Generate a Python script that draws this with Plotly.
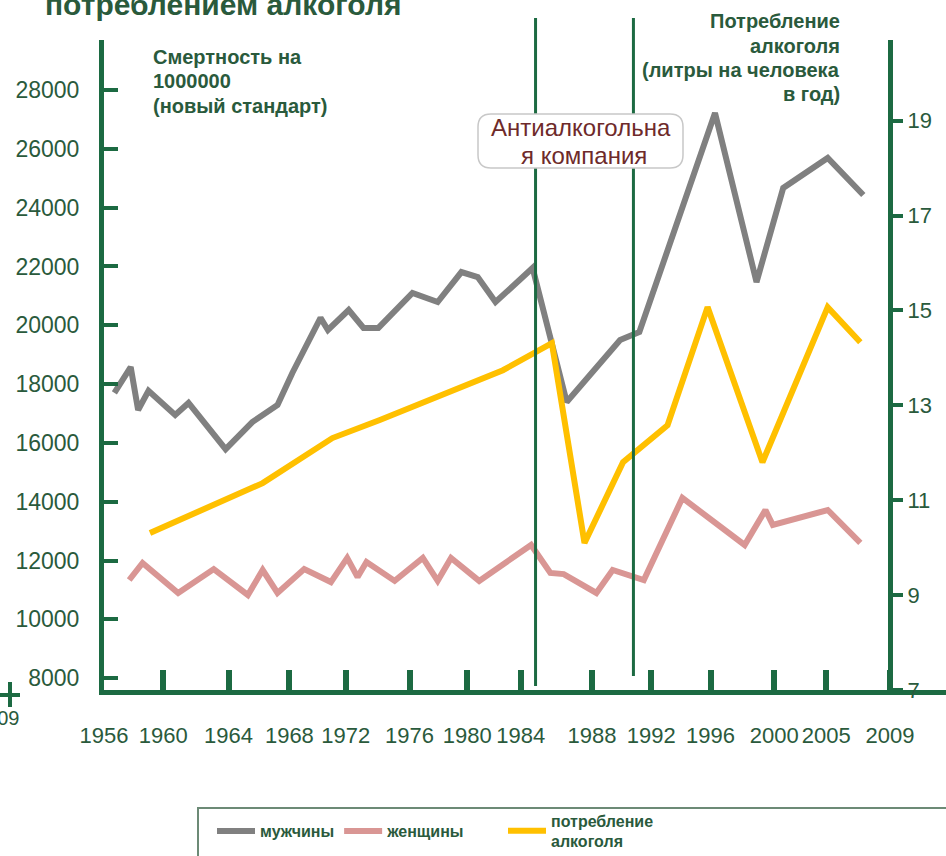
import plotly.graph_objects as go

# ---------------- data ----------------
men_years = [1956.7, 1957.8, 1958.3, 1959.0, 1960.8, 1961.7, 1964.2, 1965.6, 1966.0, 1967.7,
             1968.7, 1970.6, 1971.1, 1972.5, 1973.5, 1974.5, 1976.8, 1978.5, 1980.1, 1981.2,
             1982.4, 1984.9, 1987.2, 1990.8, 1992.1, 1997.2, 2000.0, 2001.8, 2004.8, 2007.2]
men_mortality = [17700, 18580, 17120, 17770, 16950, 17360, 15790, 16540, 16710, 17290,
                 18380, 20250, 19840, 20520, 19910, 19910, 21100, 20790, 21810, 21640,
                 20790, 21950, 17390, 19500, 19770, 27220, 21470, 24670, 25690, 24430]

women_years = [1957.7, 1958.6, 1961.0, 1963.4, 1965.7, 1966.7, 1967.7, 1969.5, 1971.3, 1972.4,
               1973.1, 1973.7, 1975.6, 1977.5, 1978.5, 1979.4, 1981.3, 1984.8, 1986.1, 1987.0,
               1989.2, 1990.3, 1992.4, 1995.0, 1999.2, 2000.6, 2001.1, 2004.8, 2007.0]
women_mortality = [11340, 11920, 10900, 11710, 10830, 11680, 10900, 11710, 11270, 12090,
                   11440, 11950, 11310, 12090, 11310, 12090, 11310, 12530, 11580, 11540,
                   10900, 11680, 11340, 14130, 12530, 13720, 13210, 13720, 12600]

alcohol_years = [1959.1, 1966.7, 1971.4, 1974.6, 1982.9, 1986.2, 1988.4, 1991.0, 1994.0,
                 1996.7, 2000.4, 2004.8, 2007.0]
alcohol_litres = [10.31, 11.36, 12.31, 12.69, 13.74, 14.31, 10.10, 11.80, 12.58,
                  15.07, 11.80, 15.07, 14.33]

# tick labels and where the original chart placed them along the year axis
x_tick_labels = ["1956", "1960", "1964", "1968", "1972", "1976", "1980", "1984",
                 "1988", "1992", "1996", "2000", "2005", "2009"]
x_tick_pos = [1956.0, 1960.0, 1964.4, 1968.5, 1972.3, 1976.6, 1980.5, 1984.1,
              1988.9, 1992.9, 1996.9, 2001.2, 2004.7, 2009.0]
left_ticks = [8000, 10000, 12000, 14000, 16000, 18000, 20000, 22000, 24000, 26000, 28000]
right_ticks = [7, 9, 11, 13, 15, 17, 19]
campaign_start, campaign_end = 1985.1, 1991.7

names = ["мужчины", "женщины", "потребление<br>алкоголя"]

# ---------------- layout helpers ----------------
W, H = 946, 856
L, R, T, B = 104, 0, 40, 166
def px(x):
    return (x - L) / (W - L - R)
def py(y):
    return (H - B - y) / (H - T - B)

GREEN = "#1c6a42"
TXT = "#2a5a3c"
FONT = "Liberation Sans, Arial, sans-serif"

fig = go.Figure()
fig.add_trace(go.Scatter(x=women_years, y=women_mortality, name=names[1], mode="lines",
                         line=dict(color="#d99694", width=6), legendrank=2, yaxis="y",
                         legend="legend"))
fig.add_trace(go.Scatter(x=men_years, y=men_mortality, name=names[0], mode="lines",
                         line=dict(color="#808080", width=6), legendrank=1, yaxis="y",
                         legend="legend"))
fig.add_trace(go.Scatter(x=alcohol_years, y=alcohol_litres, name=names[2], mode="lines",
                         line=dict(color="#ffc000", width=6), legendrank=3, yaxis="y2",
                         legend="legend2"))

right_pos = px(890)
legend_font = dict(size=16, color=TXT, weight="bold")

fig.update_layout(
    width=W, height=H,
    margin=dict(l=L, r=R, t=T, b=B, autoexpand=False),
    paper_bgcolor="white", plot_bgcolor="white",
    font=dict(family=FONT, color=TXT),
    showlegend=True,
    xaxis=dict(range=[1956, 1956 + (W - L - R) / 14.83], tickvals=x_tick_pos, ticktext=x_tick_labels,
               showgrid=False, zeroline=False, showline=True, linecolor=GREEN, linewidth=5,
               ticks="inside", ticklen=20, tickwidth=6, tickcolor=GREEN,
               tickfont=dict(size=22, color=TXT), ticklabelstandoff=22),
    yaxis=dict(range=[7600, 29700], tickvals=left_ticks, tickformat="d", showgrid=False,
               zeroline=False, showline=True, linecolor=GREEN, linewidth=5, ticks="inside",
               ticklen=14, tickwidth=4, tickcolor=GREEN, tickfont=dict(size=23, color=TXT),
               ticklabelstandoff=15),
    yaxis2=dict(range=[7, 20.7], tickvals=right_ticks, overlaying="y", side="right",
                anchor="free", position=right_pos, showgrid=False, zeroline=False,
                showline=True, linecolor=GREEN, linewidth=5, ticks="outside", ticklen=10,
                tickwidth=4, tickcolor=GREEN, tickfont=dict(size=22, color=TXT)),
    legend=dict(orientation="h", x=px(212), y=py(831), xanchor="left", yanchor="middle",
                font=legend_font, itemwidth=38,
                bgcolor="rgba(0,0,0,0)", borderwidth=0),
    legend2=dict(orientation="h", x=px(503), y=py(831), xanchor="left", yanchor="middle",
                 font=legend_font, itemwidth=38,
                 bgcolor="rgba(0,0,0,0)", borderwidth=0),
)

# campaign lines
fig.add_shape(type="line", xref="x", yref="paper", x0=campaign_start, x1=campaign_start,
              y0=py(686), y1=py(18), line=dict(color=GREEN, width=3))
fig.add_shape(type="line", xref="x", yref="paper", x0=campaign_end, x1=campaign_end,
              y0=py(676), y1=py(18), line=dict(color=GREEN, width=3))

# rounded box for the campaign label
def rounded(x0, y0, x1, y1, r):
    X0, X1 = px(x0), px(x1)
    Y0, Y1 = py(y0), py(y1)
    rx = r / (W - L - R)
    ry = r / (H - T - B)
    return (f"M{X0+rx},{Y0} L{X1-rx},{Y0} Q{X1},{Y0} {X1},{Y0-ry} "
            f"L{X1},{Y1+ry} Q{X1},{Y1} {X1-rx},{Y1} L{X0+rx},{Y1} Q{X0},{Y1} {X0},{Y1+ry} "
            f"L{X0},{Y0-ry} Q{X0},{Y0} {X0+rx},{Y0} Z")

fig.add_shape(type="path", xref="paper", yref="paper", path=rounded(478, 114, 683, 168, 13),
              fillcolor="white", line=dict(color="#c8c8c8", width=1.5))

# legend frame
fig.add_shape(type="rect", xref="paper", yref="paper", x0=px(198), x1=px(980),
              y0=py(880), y1=py(808), line=dict(color="#6c8a76", width=2))

# left-edge remnants
fig.add_shape(type="line", xref="paper", yref="paper", x0=px(10), x1=px(10), y0=py(707), y1=py(682),
              line=dict(color=GREEN, width=4))
fig.add_shape(type="line", xref="paper", yref="paper", x0=px(0), x1=px(20), y0=py(695), y1=py(695),
              line=dict(color=GREEN, width=4))

def txt(text, x, y, size, color=TXT, bold=True, xanchor="left"):
    fig.add_annotation(text=text, xref="paper", yref="paper", x=px(x), y=py(y),
                       xanchor=xanchor, yanchor="middle", showarrow=False,
                       font=dict(family=FONT, size=size, color=color,
                                 weight="bold" if bold else "normal"))

txt("2009", 22, 718, 20, bold=False, xanchor="right")
txt("потреблением алкоголя", 43, 5, 30)
txt("Смертность на", 151, 57, 20)
txt("1000000", 151, 81, 20)
txt("(новый стандарт)", 151, 106, 20)
txt("Потребление", 842, 21, 20, xanchor="right")
txt("алкоголя", 842, 46, 20, xanchor="right")
txt("(литры на человека", 842, 70, 20, xanchor="right")
txt("в год)", 842, 94, 20, xanchor="right")
txt("Антиалкогольна", 581, 127, 24, color="#6e2a2a", bold=False, xanchor="center")
txt("я компания", 584, 155, 24, color="#6e2a2a", bold=False, xanchor="center")

fig.write_html("out.html", config={"displayModeBar": False},
               post_script="document.body.style.margin='0';document.body.style.overflow='hidden';")
